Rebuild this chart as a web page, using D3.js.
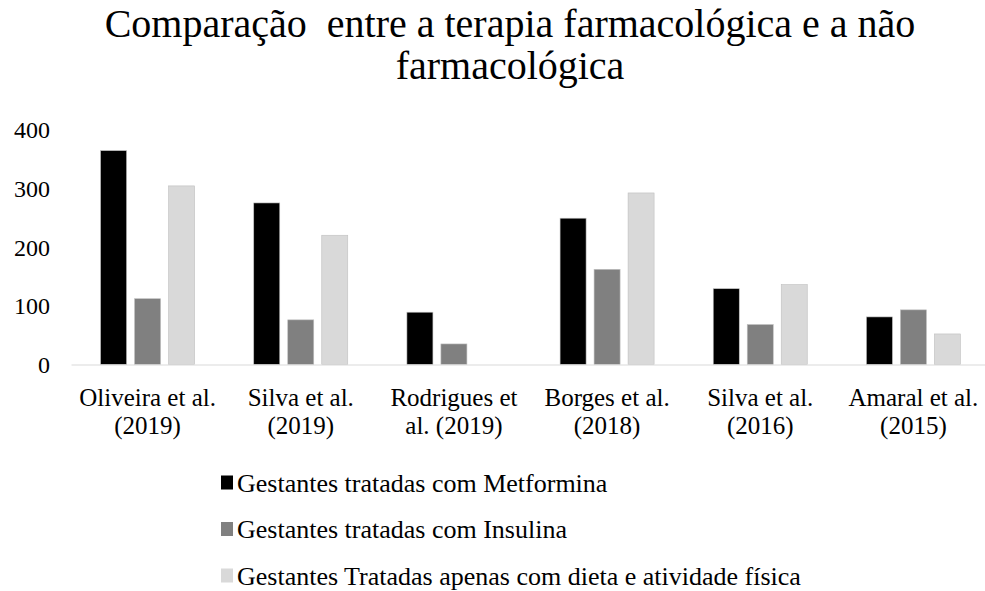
<!DOCTYPE html>
<html><head><meta charset="utf-8">
<script src="https://cdn.jsdelivr.net/npm/d3@7"></script>
<style>body{margin:0;background:#fff}svg{display:block}text{font-family:"Liberation Serif",serif}</style>
</head><body><svg id="c" width="985" height="591"></svg>
<script>
const categories = [["Oliveira et al.","(2019)"],["Silva et al.","(2019)"],["Rodrigues et","al. (2019)"],["Borges et al.","(2018)"],["Silva et al.","(2016)"],["Amaral et al.","(2015)"]];
const seriesNames = ["Gestantes tratadas com Metformina","Gestantes tratadas com Insulina","Gestantes Tratadas apenas com dieta e atividade física"];
const metformina = [364, 275, 89, 249, 129, 81];
const insulina = [112, 76, 35, 162, 68, 93];
const dieta = [304, 220, 0, 292, 136, 52];
const yTicks = [0, 100, 200, 300, 400];
const colors = ["#000000", "#808080", "#d9d9d9"];
const titleLines = ["Comparação  entre a terapia farmacológica e a não", "farmacológica"];

const FONT = '"Liberation Serif",serif';
const svg = d3.select("#c");
const series = [metformina, insulina, dieta];
const idx = d3.range(categories.length);

const x0 = d3.scaleBand().domain(idx).range([71, 990]).paddingInner(0).paddingOuter(0);
const x1 = d3.scaleBand().domain([0,1,2]).range([0, x0.bandwidth()]).paddingInner(0.235).paddingOuter(0.87);
const y = d3.scaleLinear().domain([0, 400]).range([364.5, 129.5]);

// title
svg.append("text").attr("text-anchor", "middle").attr("font-size", 40).attr("fill", "#000")
  .style("font-family", FONT).style("white-space", "pre").attr("xml:space", "preserve")
  .selectAll("tspan").data(titleLines).join("tspan").attr("x", 510).attr("y", (d,i)=>37 + i*42).text(d=>d);

// y axis labels
const yAxis = d3.axisLeft(y).tickValues(yTicks).tickSize(0).tickPadding(0);
const gy = svg.append("g").attr("transform", "translate(50,0)").call(yAxis);
gy.attr("font-family", null);
gy.select(".domain").remove();
gy.selectAll("text").attr("font-size", 24).attr("fill", "#000").style("font-family", FONT).attr("dy", "0.34em");

// bars
const g = svg.append("g");
series.forEach((vals, s) => {
  g.selectAll(".b"+s).data(idx).join("rect")
    .attr("x", i => x0(i) + x1(s))
    .attr("y", i => y(vals[i]))
    .attr("width", x1.bandwidth())
    .attr("height", i => y(0) - y(vals[i]))
    .attr("fill", colors[s])
    .attr("stroke", "#bfbfbf")
    .attr("stroke-width", 0.6)
    .attr("display", i => vals[i] > 0 ? null : "none");
});

// x axis
const xAxis = d3.axisBottom(x0).tickSize(0).tickFormat("");
const gx = svg.append("g").attr("transform", `translate(0,${y(0)})`).call(xAxis);
gx.attr("font-family", null);
gx.select(".domain").attr("stroke", "#d9d9d9").attr("stroke-width", 1.2);
gx.selectAll(".tick").each(function(i){
  const t = d3.select(this).append("text").attr("text-anchor","middle").attr("font-size",25).attr("fill","#000")
    .style("font-family", FONT);
  categories[i].forEach((line,k)=> t.append("tspan").attr("x",0).attr("y", 41 + k*28).text(line));
});

// legend
const lg = svg.append("g");
seriesNames.forEach((name, s) => {
  const cy = 482.5 + s*46.5;
  lg.append("rect").attr("x", 221).attr("y", cy-7).attr("width", 12).attr("height", 14).attr("fill", colors[s]);
  lg.append("text").attr("x", 237).attr("y", cy+9).attr("font-size", 26).attr("fill","#000").style("font-family", FONT).text(name);
});
</script></body></html>
